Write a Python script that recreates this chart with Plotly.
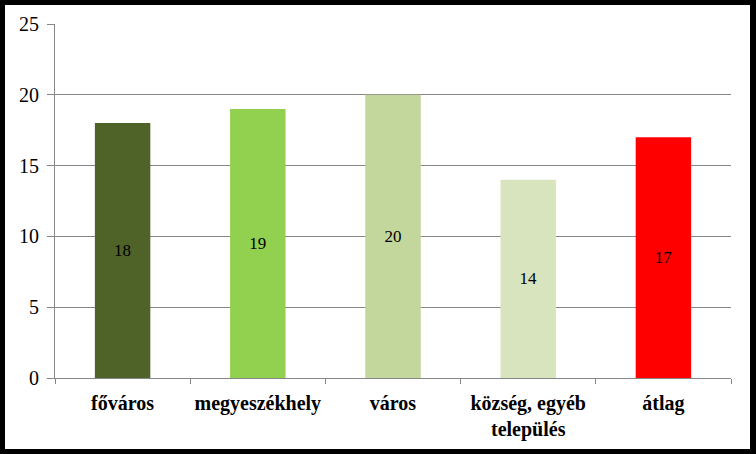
import plotly.graph_objects as go

categories = ["főváros", "megyeszékhely", "város", "község, egyéb<br>település", "átlag"]
values = [18, 19, 20, 14, 17]
colors = ["#4F6228", "#92D050", "#C3D69B", "#D7E4BD", "#FF0000"]
y_ticks = [0, 5, 10, 15, 20, 25]

W, H = 756, 454
L, R, T, B = 55, 25, 24, 76
pw, ph = W - L - R, H - T - B
SERIF = "Liberation Serif"

def px_x(x):
    return (x - L) / pw

def px_y(y):
    return (H - B - y) / ph

fig = go.Figure(go.Bar(
    x=categories, y=values,
    marker=dict(color=colors, line=dict(width=0)),
    text=[str(v) for v in values],
    textposition="inside",
    insidetextanchor="middle",
    textangle=0,
    textfont=dict(family=SERIF, size=17, color="black"),
    cliponaxis=False,
))

fig.update_layout(
    width=W, height=H,
    margin=dict(l=L, r=R, t=T, b=B, pad=0),
    paper_bgcolor="black",
    plot_bgcolor="rgba(0,0,0,0)",
    bargap=0.59,
    showlegend=False,
    font=dict(family=SERIF, color="black"),
    shapes=[dict(type="rect", xref="paper", yref="paper",
                 x0=px_x(5), x1=px_x(750), y0=px_y(449), y1=px_y(5),
                 fillcolor="white", line=dict(width=0), layer="below")],
)

fig.update_yaxes(
    range=[0, 25], tickvals=y_ticks, ticktext=[str(v) for v in y_ticks],
    showgrid=True, gridcolor="#868686", gridwidth=1,
    showline=True, linecolor="#868686", linewidth=1,
    ticks="outside", ticklen=7, tickcolor="#868686",
    tickfont=dict(size=20, family=SERIF, color="black"),
    ticklabelstandoff=4, automargin=False,
    zeroline=False, fixedrange=True,
)
fig.update_xaxes(
    showline=True, linecolor="#868686", linewidth=1,
    ticks="outside", ticklen=5, tickcolor="#868686", tickson="boundaries",
    tickfont=dict(size=20, family=SERIF, color="black", weight="bold"),
    tickangle=0, ticklabelstandoff=7, automargin=False,
    showgrid=False, fixedrange=True,
)

fig.write_html("out.html")
